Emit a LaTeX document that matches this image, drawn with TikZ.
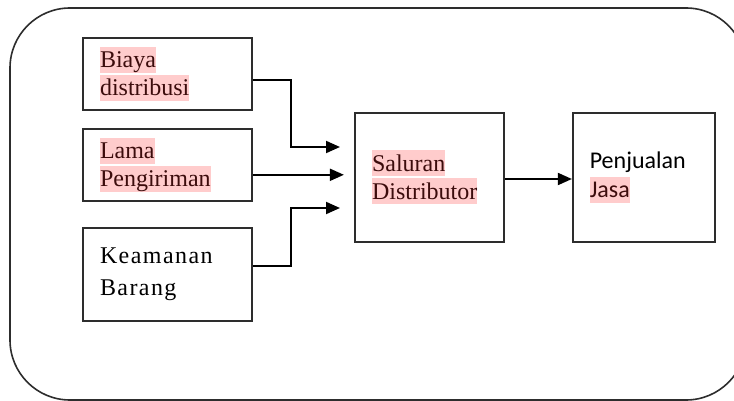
\documentclass[tikz,border=0pt]{standalone}
\usepackage{fontspec}
\setmainfont{Liberation Serif}
\newfontfamily\calibfont{Carlito}
\newfontfamily\spacedfont[LetterSpace=6]{Liberation Serif}
\usepackage{tikz}
\usetikzlibrary{arrows.meta,positioning}
\definecolor{hlpink}{RGB}{255,204,204}
\definecolor{hltext}{RGB}{60,12,12}
\definecolor{linegray}{RGB}{45,45,45}
\newcommand{\hlt}[1]{{\setlength{\fboxsep}{0pt}\colorbox{hlpink}{\rule[-5pt]{0pt}{26pt}\textcolor{hltext}{#1}}}}
\tikzstyle{factor}=[draw=linegray, line width=1.8pt, rectangle, align=left,
                inner xsep=17pt, inner ysep=0pt, font=\fontsize{24}{28}\selectfont]
\tikzstyle{feed}=[draw=black, line width=1.9pt, -{Triangle[length=14pt,width=12pt]}]
\tikzstyle{frame}=[draw=linegray, line width=1.6pt, rounded corners=60pt]

\begin{document}
\begin{tikzpicture}[x=1pt,y=-1pt]
        \useasboundingbox (0,0) rectangle (734,401);
        \begin{scope}
            \clip (0,0) rectangle (734,401);
            \draw[frame] (10,8) rectangle (746,400);
        \end{scope}
        \node [factor, text width=135pt, minimum height=72pt] (biaya) at (167.5,74) {\hlt{Biaya}\\\hlt{distribusi}};
        \node [factor, text width=135pt, minimum height=72pt, below = 17pt of biaya] (lama) {\hlt{Lama}\\\hlt{Pengiriman}};
        \node [factor, text width=135pt, minimum height=93pt, below = 25pt of lama,
               font=\spacedfont\fontsize{24}{32}\selectfont] (keamanan) {Keamanan\\Barang};
        \node [factor, text width=115pt, minimum height=129pt] (saluran) at (429.5,177.5) {\hlt{Saluran}\\\hlt{Distributor}};
        \node [factor, text width=108pt, minimum height=129pt, right = 67pt of saluran,
               font=\calibfont\fontsize{24}{29}\selectfont] (penjualan) {Penjualan\\\hlt{Jasa}};
        \coordinate (in1) at (340,147);
        \path ([yshift=-10pt]lama.east) ++(91pt,0) coordinate (in2);
        \coordinate (in3) at (340,208);
        \draw[feed] ([yshift=-6pt]biaya.east) -| ([xshift=-49pt]in1) -- (in1);
        \draw[feed] ([yshift=-10pt]lama.east) -- (in2);
        \draw[feed] ([yshift=8pt]keamanan.east) -| ([xshift=-49pt]in3) -- (in3);
        \draw[feed] ([yshift=-1.5pt]saluran.east) -- ([yshift=-1.5pt]penjualan.west);
    \end{tikzpicture}
\end{document}
